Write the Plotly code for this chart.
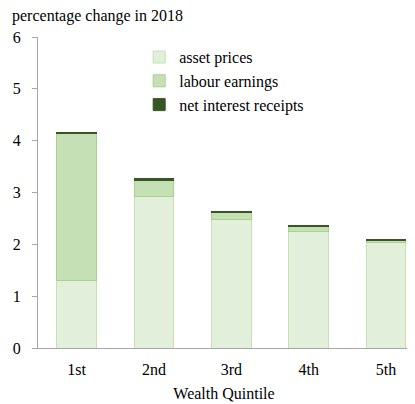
import plotly.graph_objects as go

quintiles = ["1st", "2nd", "3rd", "4th", "5th"]
asset_prices = [1.30, 2.92, 2.48, 2.25, 2.03]
labour_earnings = [2.83, 0.32, 0.13, 0.09, 0.04]
net_interest = [0.03, 0.03, 0.03, 0.03, 0.03]

FONT = "Liberation Serif"
font16 = dict(family=FONT, size=16, color="#000")

fig = go.Figure()
series = [
    ("asset prices", asset_prices, "#e2efda", "#c6e0b4"),
    ("labour earnings", labour_earnings, "#c5e0b4", "#a9d08e"),
    ("net interest receipts", net_interest, "#375623", "#375623"),
]
for name, vals, fill, edge in series:
    fig.add_trace(go.Bar(
        x=quintiles, y=vals, name=name,
        marker=dict(color=fill, line=dict(color=edge, width=1)),
        width=0.51,
    ))

# page body adds an 8px offset, so the figure is sized to fit the window
fig.update_layout(
    width=407, height=396,
    barmode="stack",
    plot_bgcolor="white", paper_bgcolor="white",
    font=font16,
    margin=dict(l=27, r=5, t=29, b=54),
    title=dict(
        text="percentage change in 2018", font=font16,
        xref="container", yref="container",
        x=4 / 407, y=1 - 7 / 396, xanchor="left", yanchor="middle",
    ),
    showlegend=True,
    legend=dict(
        x=0.272, y=0.99, xanchor="left", yanchor="top",
        traceorder="normal", bgcolor="rgba(0,0,0,0)",
        font=font16, itemwidth=30, tracegroupgap=0,
    ),
    xaxis=dict(
        range=[-0.5, 4.31],
        showline=True, linecolor="#a6a6a6", linewidth=1,
        ticks="", showgrid=False,
        tickfont=font16,
        ticklabelstandoff=7,
        title=dict(text="Wealth Quintile", standoff=10, font=font16),
    ),
    yaxis=dict(
        range=[0, 6], dtick=1,
        showline=True, linecolor="#a6a6a6", linewidth=1,
        ticks="outside", ticklen=5, tickcolor="#a6a6a6",
        tickfont=font16,
        ticklabelstandoff=8,
        showgrid=False, zeroline=False,
    ),
)

fig.write_html("out.html")
